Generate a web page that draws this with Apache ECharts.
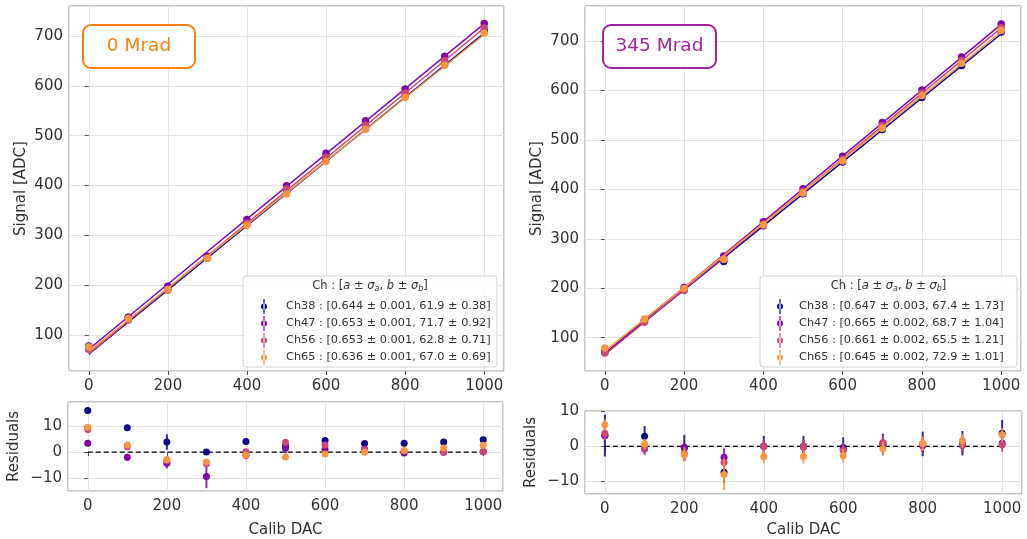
<!DOCTYPE html>
<html>
<head>
<meta charset="utf-8">
<script src="https://cdn.jsdelivr.net/npm/echarts@6/dist/echarts.min.js"></script>
<style>html,body{margin:0;padding:0;background:#fff}#c{width:1027px;height:539px}</style>
</head>
<body>
<div id="c"></div>
<script>
// ---------- data ----------
const calibDAC = [0, 100, 200, 300, 400, 500, 600, 700, 800, 900, 1000];
const channels = ['Ch38', 'Ch47', 'Ch56', 'Ch65'];

// 0 Mrad : signal [ADC]
const sig0_38 = [78.0, 135.7, 194.6, 255.1, 323.6, 386.3, 452.8, 516.0, 580.5, 645.4, 710.7];
const sig0_47 = [75.1, 135.0, 198.0, 258.1, 331.7, 399.7, 464.6, 530.0, 593.7, 659.3, 724.8];
const sig0_56 = [71.6, 130.2, 190.0, 254.2, 324.1, 393.1, 457.4, 520.8, 585.6, 650.5, 716.1];
const sig0_65 = [76.6, 133.4, 191.3, 253.9, 320.3, 383.1, 447.9, 512.1, 576.4, 641.0, 705.6];
// 0 Mrad : residuals
const res0_38 = [16.1, 9.4, 3.9, 0.0, 4.1, 2.4, 4.5, 3.3, 3.4, 3.9, 4.75];
const res0_47 = [3.4, -2.0, -4.3, -9.5, -1.25, 1.5, 1.1, 1.2, -0.4, -0.1, 0.1];
const res0_56 = [8.75, 2.1, -3.4, -4.5, 0.1, 3.75, 2.75, 0.9, 0.4, 0.0, 0.25];
const res0_65 = [9.6, 2.75, -2.9, -3.9, -1.1, -1.9, -0.75, -0.1, 0.6, 1.6, 2.6];
// 0 Mrad : errors
const err0_38 = [1, 1.2, 3, 0.8, 1, 2.5, 1, 1, 1, 1, 1];
const err0_47 = [1, 1.3, 2, 4.5, 1.5, 2, 1, 1, 1, 1, 1];
const err0_56 = [1, 1, 1, 1.5, 1, 1, 1, 1, 1, 1.5, 1.5];
const err0_65 = [1, 1, 1, 1, 1, 1, 1, 1, 1, 1, 1];
// 0 Mrad : fit parameters
const fitA0 = [0.644, 0.653, 0.653, 0.636];
const sigA0 = [0.001, 0.001, 0.001, 0.001];
const fitB0 = [61.9, 71.7, 62.8, 67.0];
const sigB0 = [0.38, 0.92, 0.71, 0.69];

// 345 Mrad : signal [ADC]
const sig345_38 = [70.5, 135.0, 196.4, 254.1, 326.2, 390.9, 455.3, 520.9, 585.7, 650.6, 718.2];
const sig345_47 = [71.8, 134.5, 201.4, 265.1, 334.7, 401.0, 466.8, 535.1, 600.9, 667.5, 734.6];
const sig345_56 = [69.3, 131.2, 195.7, 259.2, 329.9, 396.0, 461.0, 529.3, 594.9, 660.9, 727.0];
const sig345_65 = [79.1, 138.1, 199.5, 258.4, 328.0, 392.5, 457.2, 523.7, 589.7, 655.0, 721.2];
// 345 Mrad : residuals
const res345_38 = [3.1, 2.9, -0.4, -7.4, 0.0, 0.0, -0.3, 0.6, 0.7, 0.9, 3.75];
const res345_47 = [3.1, -0.7, -0.3, -3.1, 0.0, -0.2, -0.9, 0.9, 0.2, 0.3, 0.9];
const res345_56 = [3.75, -0.45, -2.0, -4.6, 0.0, 0.0, -1.1, 1.1, 0.6, 0.45, 0.45];
const res345_65 = [6.2, 0.7, -2.4, -8.0, -2.9, -2.9, -2.7, -0.7, 0.8, 1.6, 3.3];
// 345 Mrad : errors
const err345_38 = [6, 2.9, 3.7, 3, 3, 3, 2.9, 3, 3.5, 3.5, 3.8];
const err345_47 = [1.5, 1.5, 1.5, 2.5, 2, 2, 1.5, 2, 2, 2, 1.5];
const err345_56 = [2, 2, 2, 2, 2, 2, 2, 2, 2, 2, 2];
const err345_65 = [1.5, 1.5, 2, 4.5, 2, 2, 2, 2, 2, 2, 2];
// 345 Mrad : fit parameters
const fitA345 = [0.647, 0.665, 0.661, 0.645];
const sigA345 = [0.003, 0.002, 0.002, 0.002];
const fitB345 = [67.4, 68.7, 65.5, 72.9];
const sigB345 = [1.73, 1.04, 1.21, 1.01];

// ---------- styling ----------
const colors = ['#0d0887', '#7e03a8', '#cc4778', '#f89540'];
const FONT = 'DejaVu Sans';
const TXT = '#333333';
const GRIDC = '#e4e4e4';
const SPINE = '#8c8c8c';
const ERRICON = 'path://M4.2,0 L5.8,0 L5.8,20 L4.2,20 Z M1,10 A4,4 0 1 0 9,10 A4,4 0 1 0 1,10 Z';

const panels = [
  { sig: [sig0_38, sig0_47, sig0_56, sig0_65], res: [res0_38, res0_47, res0_56, res0_65],
    err: [err0_38, err0_47, err0_56, err0_65], a: fitA0, sa: sigA0, b: fitB0, sb: sigB0, top: 0, bot: 1 },
  { sig: [sig345_38, sig345_47, sig345_56, sig345_65], res: [res345_38, res345_47, res345_56, res345_65],
    err: [err345_38, err345_47, err345_56, err345_65], a: fitA345, sa: sigA345, b: fitB345, sb: sigB345, top: 2, bot: 3 }
];

function minus(v) { return String(v).replace('-', '\u2212'); }

function xAxis(gi, withName, gap) {
  return {
    type: 'value', gridIndex: gi, min: -50, max: 1050, splitNumber: 5,
    axisLine: { show: false },
    axisTick: { show: true, inside: false, length: 4, lineStyle: { color: '#555' } },
    axisLabel: { fontSize: 15, color: TXT, fontFamily: FONT, margin: 8, showMinLabel: false, showMaxLabel: false, formatter: minus },
    splitLine: { show: true, lineStyle: { color: GRIDC, width: 1 } },
    name: withName ? 'Calib DAC' : '', nameLocation: 'middle', nameGap: gap || 29,
    nameTextStyle: { fontSize: 15, color: TXT, fontFamily: FONT }
  };
}
function yAxis(gi, min, max, split, name, gap) {
  return {
    type: 'value', gridIndex: gi, min: min, max: max, splitNumber: split,
    axisLine: { show: false },
    axisTick: { show: true, inside: false, length: 4, lineStyle: { color: '#555' } },
    axisLabel: { fontSize: 15, color: TXT, fontFamily: FONT, margin: 6, showMinLabel: false, showMaxLabel: false, formatter: minus },
    splitLine: { show: true, lineStyle: { color: GRIDC, width: 1 } },
    name: name, nameLocation: 'middle', nameGap: gap, nameRotate: 90,
    nameTextStyle: { fontSize: 15, color: TXT, fontFamily: FONT }
  };
}

function errSeries(name, xi, yi, vals, errs, color, z) {
  return {
    type: 'custom', name: name, xAxisIndex: xi, yAxisIndex: yi, z: z, silent: true,
    data: calibDAC.map((x, i) => [x, vals[i], errs[i]]),
    renderItem: function (params, api) {
      const x = api.value(0), y = api.value(1), e = api.value(2);
      const p1 = api.coord([x, y + e]);
      const p2 = api.coord([x, y - e]);
      return { type: 'line', shape: { x1: p1[0], y1: p1[1], x2: p2[0], y2: p2[1] },
        style: { stroke: color, lineWidth: 2, opacity: 0.85 } };
    }
  };
}

const series = [];
panels.forEach((P, pi) => {
  series.push({
    type: 'line', name: 'zero' + pi, xAxisIndex: P.bot, yAxisIndex: P.bot, z: 2,
    data: [[0, 0], [1000, 0]], showSymbol: false, silent: true,
    lineStyle: { color: '#000', width: 1.3, type: [5, 3] }
  });
  channels.forEach((ch, ci) => {
    const col = colors[ci];
    const z = 3 + ci;
    series.push({
      type: 'line', name: 'fit' + pi + ch, xAxisIndex: P.top, yAxisIndex: P.top, z: z,
      data: [[0, P.b[ci]], [1000, P.a[ci] * 1000 + P.b[ci]]], showSymbol: false, silent: true,
      lineStyle: { color: col, width: 1.4 }
    });
    series.push(errSeries('err' + pi + ch, P.top, P.top, P.sig[ci], P.err[ci], col, z));
    series.push({
      type: 'scatter', name: ch, xAxisIndex: P.top, yAxisIndex: P.top, z: z,
      data: calibDAC.map((x, i) => [x, P.sig[ci][i]]), symbolSize: 7.5,
      itemStyle: { color: col, opacity: 1 }
    });
    series.push(errSeries('rerr' + pi + ch, P.bot, P.bot, P.res[ci], P.err[ci], col, z));
    series.push({
      type: 'scatter', name: 'res' + pi + ch, xAxisIndex: P.bot, yAxisIndex: P.bot, z: z,
      data: calibDAC.map((x, i) => [x, P.res[ci][i]]), symbolSize: 7,
      itemStyle: { color: col, opacity: 1 }
    });
  });
});

function legendFmt(P) {
  return function (name) {
    const i = channels.indexOf(name);
    return name + ' : [' + P.a[i].toFixed(3) + ' \u00b1 ' + P.sa[i].toFixed(3) + ', ' +
      P.b[i].toFixed(1) + ' \u00b1 ' + P.sb[i].toFixed(2) + ']';
  };
}
function legend(left, pad, P) {
  return {
    orient: 'vertical', left: left, top: 294, z: 6, selectedMode: false,
    itemWidth: 8, itemHeight: 15, itemGap: 2,
    data: channels.map(n => ({ name: n, icon: ERRICON })),
    formatter: legendFmt(P),
    textStyle: { fontSize: 11.3, color: TXT, fontFamily: FONT, padding: [0, 0, 0, pad] }
  };
}

function titleBox(cx, cy, w, h, text, color) {
  return [
    { type: 'rect', z: 20, shape: { x: cx - w / 2, y: cy - h / 2, width: w, height: h, r: 8 },
      style: { fill: '#ffffff', stroke: color, lineWidth: 2 } },
    { type: 'text', z: 21, style: { text: text, x: cx, y: cy, align: 'center', verticalAlign: 'middle',
      fontSize: 18.5, fontFamily: FONT, fill: color } }
  ];
}
function legendBox(x, y, w, h) {
  const cx = x + w / 2;
  return [
    { type: 'rect', z: 3, shape: { x: x, y: y, width: w, height: h, r: 3 },
      style: { fill: 'rgba(255,255,255,0.85)', stroke: '#d2d2d2', lineWidth: 1 } },
    { type: 'text', z: 7, style: {
      text: 'Ch : [{i|a} \u00b1 {i|\u03c3}{s|a}, {i|b} \u00b1 {i|\u03c3}{s|b}]',
      x: cx, y: y + 10, align: 'center', verticalAlign: 'middle',
      fontSize: 11.5, fontFamily: FONT, fill: TXT,
      rich: {
        i: { fontSize: 11.5, fontStyle: 'italic', fontFamily: FONT, fill: TXT },
        s: { fontSize: 8, fontStyle: 'italic', fontFamily: FONT, fill: TXT, padding: [6, 0, 0, 0] }
      } } }
  ];
}

const option = {
  animation: false,
  backgroundColor: '#ffffff',
  textStyle: { fontFamily: FONT },
  grid: [
    { left: 69, top: 6, width: 435, height: 365, show: true, borderColor: SPINE, borderWidth: 1, backgroundColor: 'transparent' },
    { left: 68, top: 402, width: 435, height: 93, show: true, borderColor: SPINE, borderWidth: 1, backgroundColor: 'transparent' },
    { left: 585, top: 6, width: 436, height: 365, show: true, borderColor: SPINE, borderWidth: 1, backgroundColor: 'transparent' },
    { left: 585, top: 411, width: 437, height: 88, show: true, borderColor: SPINE, borderWidth: 1, backgroundColor: 'transparent' }
  ],
  xAxis: [xAxis(0, false), xAxis(1, true, 32), xAxis(2, false), xAxis(3, true, 29)],
  yAxis: [
    yAxis(0, 28, 760, 7, 'Signal [ADC]', 40),
    yAxis(1, -15.1, 19.4, 3, 'Residuals', 46),
    yAxis(2, 32.7, 770.8, 7, 'Signal [ADC]', 40),
    yAxis(3, -13.6, 10.1, 3, 'Residuals', 46)
  ],
  legend: [legend(256, 13, panels[0]), legend(772, 10, panels[1])],
  graphic: [].concat(
    titleBox(139, 46.5, 112, 43, '0 Mrad', '#ff7f0e'),
    titleBox(659.5, 46.5, 113, 43, '345 Mrad', '#a0269f'),
    legendBox(243, 276, 254, 91),
    legendBox(760, 276, 257, 91)
  ),
  series: series
};

const chart = echarts.init(document.getElementById('c'), null, { renderer: 'canvas' });
chart.setOption(option);
</script>
</body>
</html>
